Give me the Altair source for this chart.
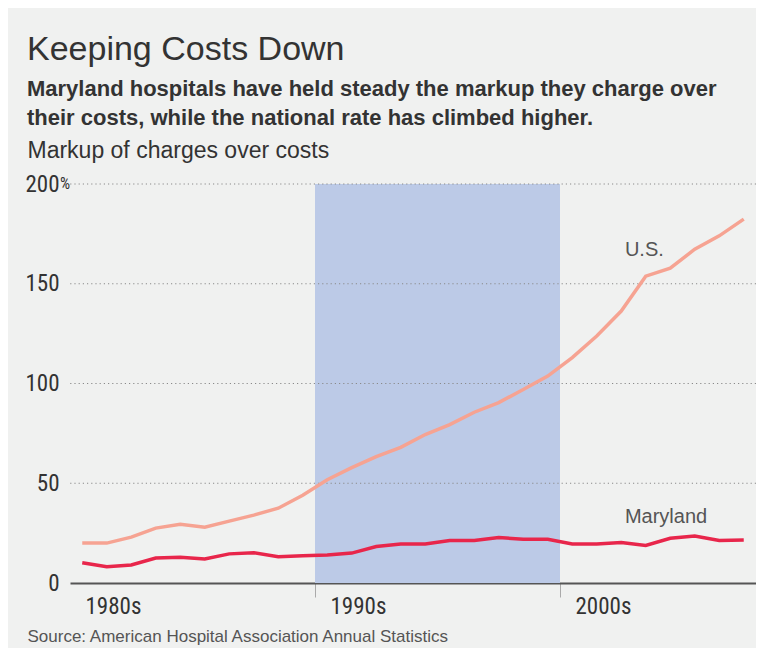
import altair as alt
import pandas as pd

years = list(range(1980, 2008))
us = [20, 20, 23, 27.5, 29.5, 28, 31, 34, 37.5, 44,
      51.8, 57.8, 63.3, 68, 74.4, 79.4, 85.6, 90.4, 97, 103.7,
      113, 123.8, 136.3, 153.8, 157.8, 167.3, 174, 182.4]
maryland = [10.2, 8.2, 9, 12.5, 12.9, 12, 14.6, 15.2, 13.2, 13.7,
            14, 15, 18.3, 19.6, 19.6, 21.3, 21.3, 22.8, 21.9, 21.9,
            19.6, 19.6, 20.3, 18.8, 22.4, 23.6, 21.3, 21.6]
series_names = ["U.S.", "Maryland"]
series_colors = ["#F6A392", "#E8264B"]

band_start = [1990]
band_end = [2000]
grid_values = [50, 100, 150, 200]
x_ticks = [1980, 1990, 2000]
y_ticks = [0, 50, 100, 150, 200]

label_text = ["U.S.", "Maryland"]
label_year = [2002.65, 2002.65]
label_value = [164, 30]

NARROW = "Liberation Sans Narrow, Roboto Condensed, DejaVu Sans Condensed, sans-serif"
REG = "Liberation Sans, Arial, sans-serif"

rows = []
for y, a, b in zip(years, us, maryland):
    rows.append({"year": y, "series": "U.S.", "value": a})
    rows.append({"year": y, "series": "Maryland", "value": b})
df = pd.DataFrame(rows)

band_df = pd.DataFrame({"start": band_start, "end": band_end})
grid_df = pd.DataFrame({"v": grid_values})
lab_df = pd.DataFrame({"text": label_text, "year": label_year, "value": label_value})

xscale = alt.Scale(domain=[1980, 2008], nice=False, zero=False)
yscale = alt.Scale(domain=[0, 200], nice=False)

band = alt.Chart(band_df).mark_rect(color="#BCCAE7").encode(
    x=alt.X("start:Q", scale=xscale,
            axis=alt.Axis(values=x_ticks, labelExpr="datum.value + 's'",
                          labelAlign="left", labelOffset=15,
                          labelBaseline="top", labelPadding=-2,
                          labelFont=NARROW, labelFontSize=23, labelColor="#333",
                          tickSize=14, tickColor="#AAAAAA", tickWidth=1,
                          tickOpacity={"condition": {"test": "datum.value === 1980", "value": 0}, "value": 1},
                          domainColor="#555", domainWidth=2, grid=False,
                          title="Source: American Hospital Association Annual Statistics",
                          titleAnchor="start", titleAlign="left", titleBaseline="alphabetic",
                          titleX=-43, titleY=58, titleFont=REG, titleFontSize=17,
                          titleFontWeight="normal", titleColor="#555")),
    x2="end:Q",
    y=alt.datum(0, scale=yscale,
                axis=alt.Axis(values=y_ticks, labelFont=NARROW, labelFontSize=23,
                              labelColor="#333", labelPadding=11, ticks=False,
                              domain=False, grid=False,
                              title="Markup of charges over costs",
                              titleAngle=0, titleAlign="left", titleBaseline="alphabetic",
                              titleX=-43, titleY=-27, titleFont=REG, titleFontSize=23,
                              titleFontWeight="normal", titleColor="#333")),
    y2=alt.datum(200),
)

grid = alt.Chart(grid_df).mark_rule(color="#8A8A8A", strokeWidth=1, strokeDash=[1.2, 3]).encode(
    y=alt.Y("v:Q", scale=yscale)
)

lines = alt.Chart(df).transform_calculate(
    xpos="datum.year + 0.5"
).mark_line(strokeWidth=3.5, interpolate="linear").encode(
    x=alt.X("xpos:Q", scale=xscale),
    y=alt.Y("value:Q", scale=yscale),
    color=alt.Color("series:N", scale=alt.Scale(domain=series_names, range=series_colors), legend=None),
)

labels = alt.Chart(lab_df).mark_text(align="left", baseline="alphabetic", font=REG,
                                     fontSize=20, color="#555").encode(
    x=alt.X("year:Q", scale=xscale),
    y=alt.Y("value:Q", scale=yscale),
    text="text:N",
)

pct = alt.Chart(pd.DataFrame({"v": [200], "t": ["%"]})).mark_text(
    align="left", baseline="middle", font=NARROW, fontSize=16, color="#333", dx=-10
).encode(
    x=alt.value(0),
    y=alt.Y("v:Q", scale=yscale),
    text="t:N",
)

chart = alt.layer(band, grid, lines, labels, pct).properties(
    width=686, height=399,
    autosize=alt.AutoSizeParams(type="none"),
    padding={"left": 62, "top": 176, "right": 0, "bottom": 65},
    background="#F0F1F0",
    title=alt.TitleParams(
        text="Keeping Costs Down",
        subtitle=["Maryland hospitals have held steady the markup they charge over",
                  "their costs, while the national rate has climbed higher."],
        anchor="start", frame="group", dx=-43,
        font=REG, fontSize=34, fontWeight="normal", color="#333",
        subtitleFont=REG, subtitleFontSize=22, subtitleFontWeight="bold",
        subtitleColor="#333", subtitleLineHeight=29, subtitlePadding=12,
        offset=10,
    ),
).configure_view(stroke=None)

chart.save("out.html", embed_options={"renderer": "svg", "actions": False})
